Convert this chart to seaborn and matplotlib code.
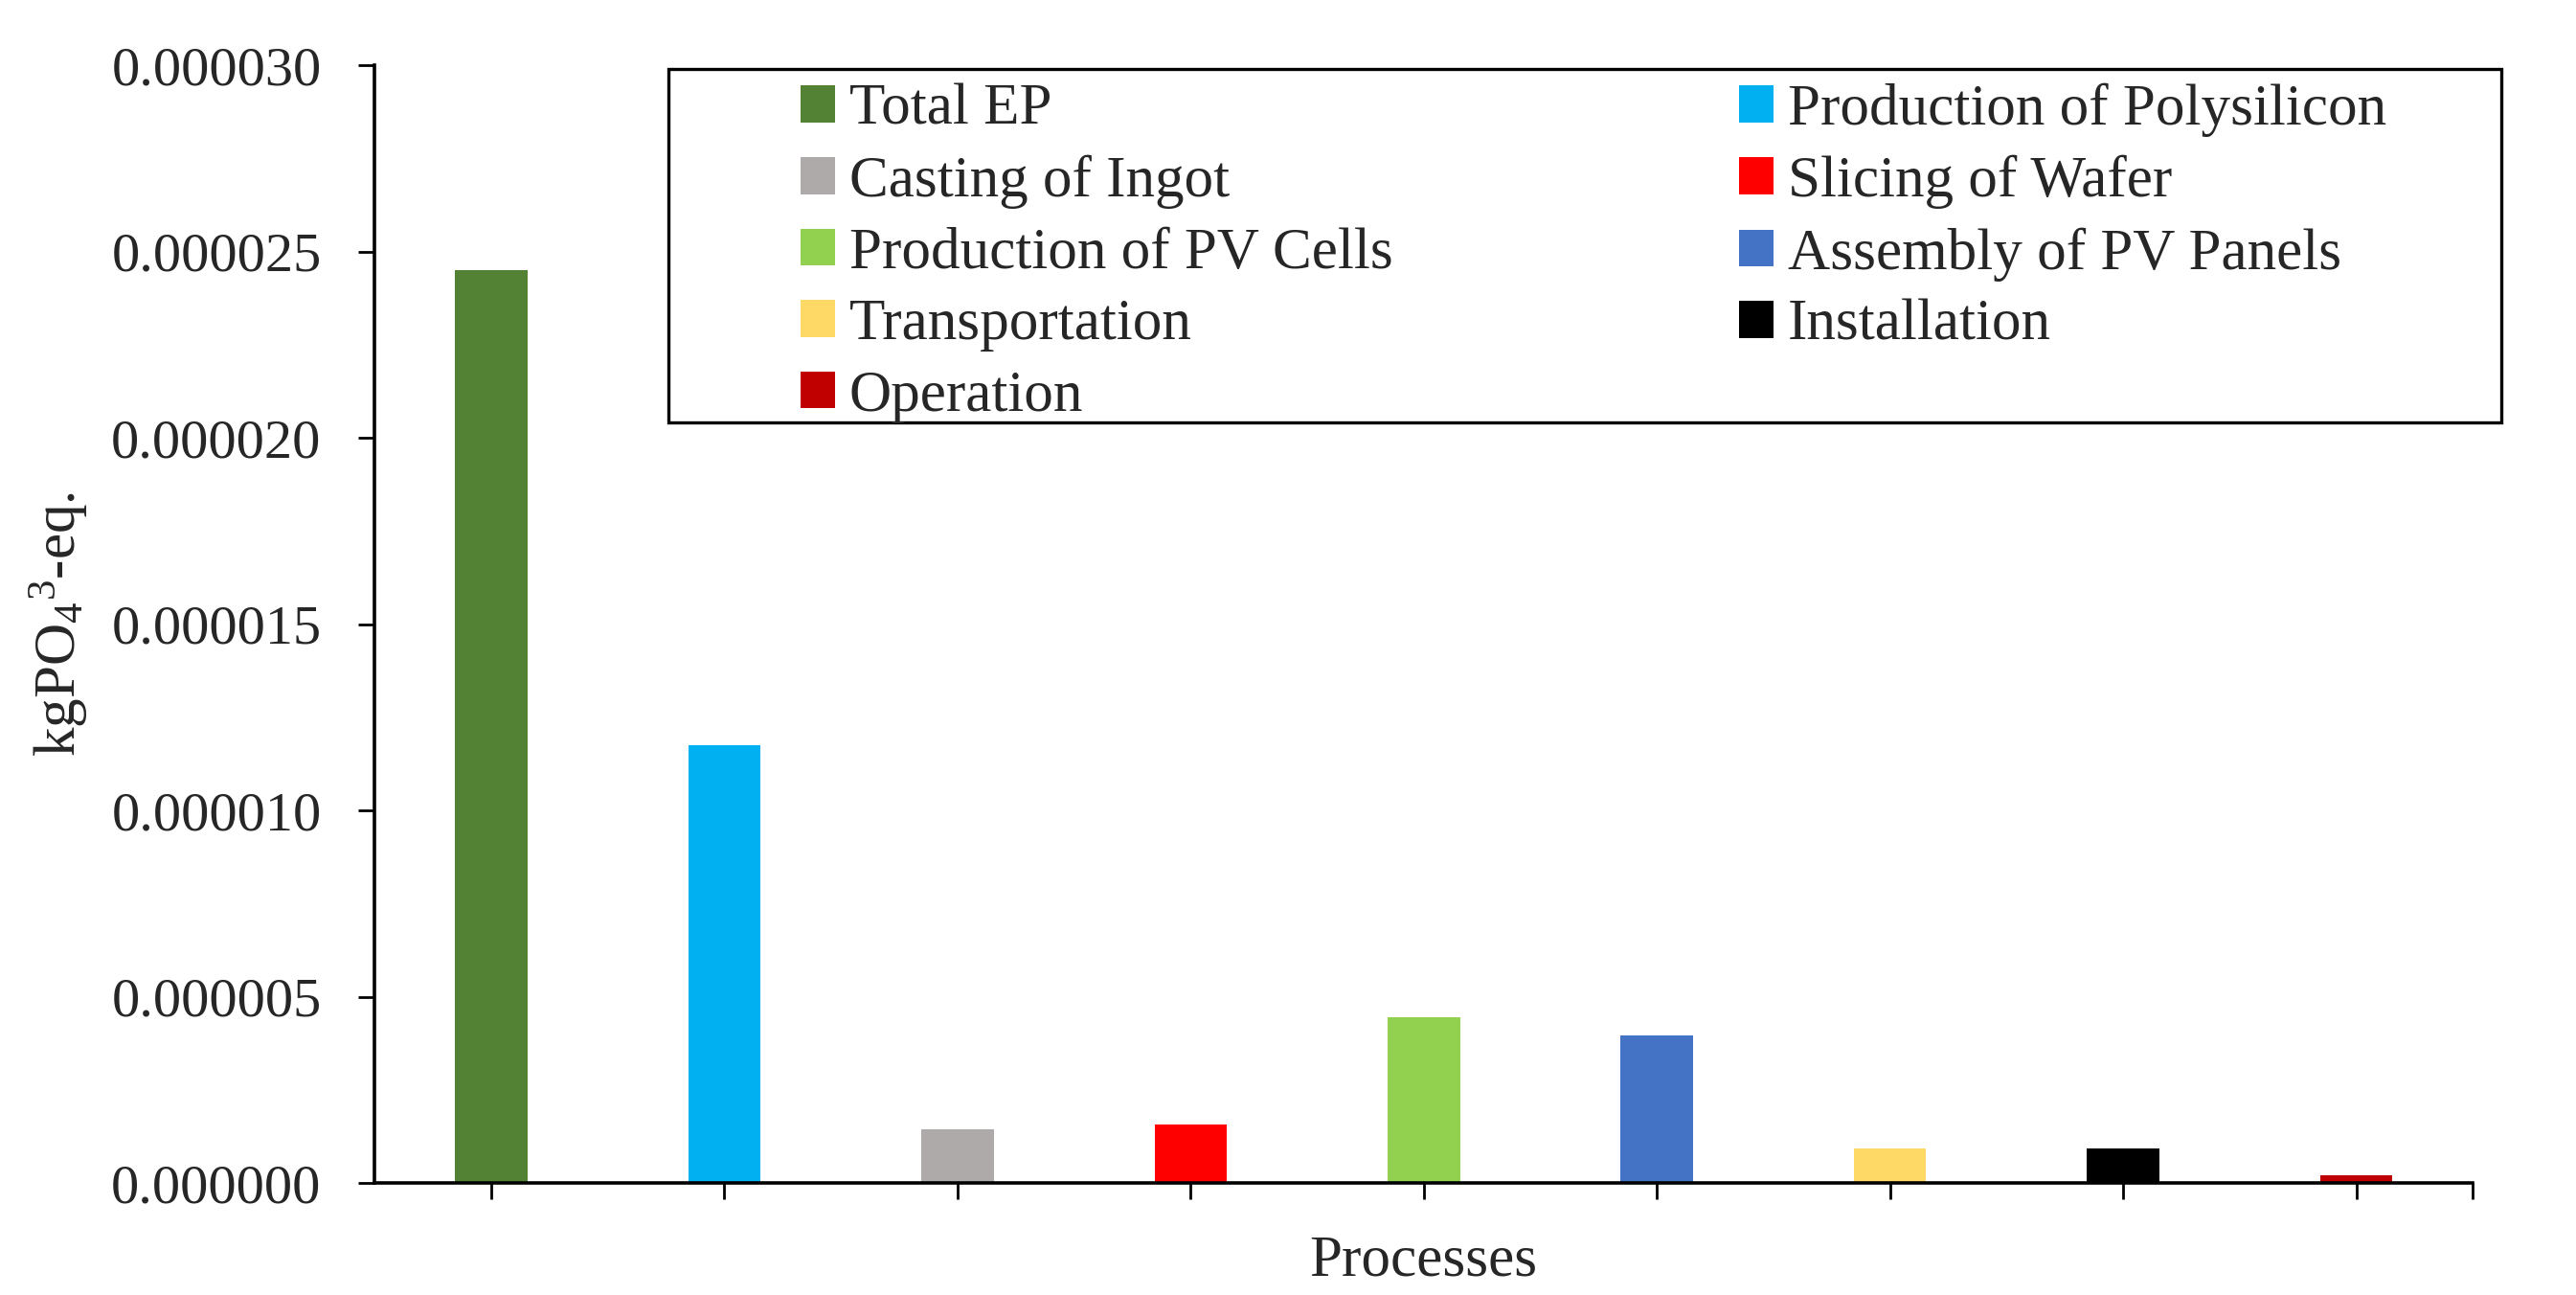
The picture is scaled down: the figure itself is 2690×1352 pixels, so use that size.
import matplotlib
matplotlib.use("Agg")
import matplotlib.pyplot as plt
import seaborn as sns
from matplotlib.patches import Patch, Rectangle

processes = ["Total EP", "Production of Polysilicon", "Casting of Ingot",
             "Slicing of Wafer", "Production of PV Cells", "Assembly of PV Panels",
             "Transportation", "Installation", "Operation"]
ep_values = [2.45e-5, 1.175e-5, 1.45e-6, 1.58e-6, 4.46e-6, 3.95e-6,
             0.92e-6, 0.92e-6, 0.21e-6]
bar_colors = ["#548235", "#00B0F0", "#AEAAAA", "#FF0000", "#92D050",
              "#4472C4", "#FFD966", "#000000", "#C00000"]
y_ticks = [0, 5e-6, 10e-6, 15e-6, 20e-6, 25e-6, 30e-6]

sns.set_style("ticks")
plt.rcParams['font.family'] = ['Liberation Serif', 'DejaVu Serif']
plt.rcParams['mathtext.fontset'] = 'custom'
plt.rcParams['mathtext.rm'] = 'Liberation Serif'
plt.rcParams['mathtext.it'] = 'Liberation Serif:italic'

fig = plt.figure(figsize=(13.45, 6.76), dpi=200)
ax = fig.add_axes([0.1454, 0.0865, 0.9600 - 0.1454, 0.9497 - 0.0865])

sns.barplot(x=processes, y=ep_values, hue=processes, palette=bar_colors,
            width=0.31, legend=False, saturation=1, ax=ax, linewidth=0)

ax.set_xlim(-0.5, 8.5)
ax.set_ylim(0, 3e-5)
ax.set_yticks(y_ticks)
ax.set_yticklabels([f"{v:.6f}" for v in y_ticks])
ax.set_xticks(list(range(len(processes))) + [8.5])
ax.set_xticklabels([""] * (len(processes) + 1))

ax.tick_params(axis='y', labelsize=21, length=6, width=1.0, pad=14, color='black')
ax.tick_params(axis='x', length=6, width=1.0, color='black')
for side in ["top", "right"]:
    ax.spines[side].set_visible(False)
for side in ["left", "bottom"]:
    ax.spines[side].set_linewidth(1.3)
    ax.spines[side].set_color('black')

ax.set_xlabel("Processes", fontsize=22, labelpad=10)
ax.set_ylabel(r"kgPO$_{\mathrm{4}}$$^{\mathrm{3}}$-eq.", fontsize=22, labelpad=8)

# legend: row-wise order in two columns
handles = [Patch(facecolor=c, edgecolor='none') for c in bar_colors]
order = [0, 2, 4, 6, 8, 1, 3, 5, 7]
leg = fig.legend([handles[i] for i in order], [processes[i] for i in order],
                 ncol=2, loc='upper left', bbox_to_anchor=(0.3106, 0.936),
                 frameon=False, fontsize=22, borderpad=0, borderaxespad=0,
                 handlelength=0.59, handleheight=0.59, handletextpad=0.245,
                 labelspacing=0.31, columnspacing=5.92)

fig.patches.append(Rectangle((0.2596, 1 - 0.326), 0.971 - 0.2596, 0.326 - 0.053,
                             transform=fig.transFigure, fill=False,
                             edgecolor='black', linewidth=1.2, zorder=3))

fig.savefig("out.png", dpi=200)
